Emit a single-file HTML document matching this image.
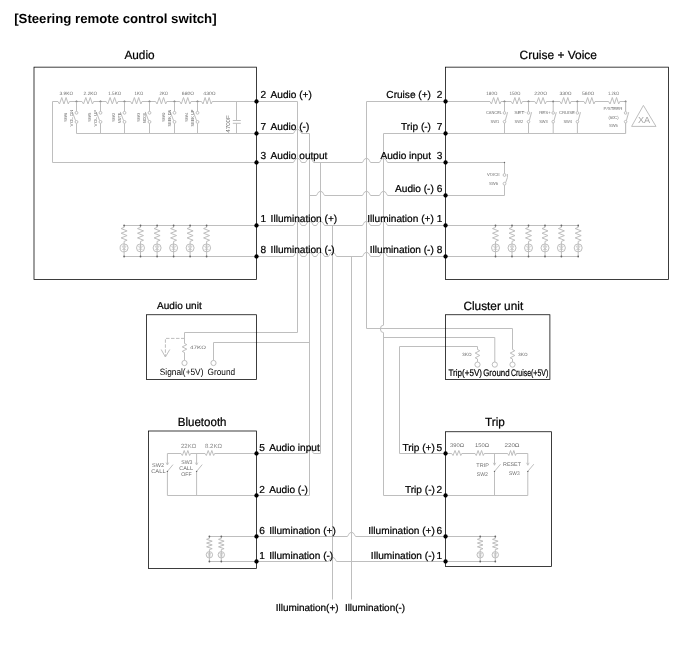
<!DOCTYPE html>
<html lang="en"><head><meta charset="utf-8"><title>Steering remote control switch</title>
<style>
html,body{margin:0;padding:0;background:#fff;}
svg{display:block;text-rendering:geometricPrecision;font-family:"Liberation Sans",sans-serif;will-change:transform;transform:translateZ(0);}
</style></head><body>
<svg width="700" height="659" viewBox="0 0 700 659">
<rect width="700" height="659" fill="#fff"/>
<path d="M256.50 101.50L297.50 101.50L297.50 332.50L184.50 332.50L184.50 343.50" stroke="#bebebe" stroke-width="1" fill="none" />
<path d="M256.5 133.5L293.20 133.5C294.50 133.5 294.40 129.30 297.50 129.30C300.60 129.30 300.50 133.5 301.80 133.5L309.5 133.5" stroke="#bebebe" stroke-width="1" fill="none"/>
<path d="M309.50 133.50L309.50 495.50L256.50 495.50" stroke="#bebebe" stroke-width="1" fill="none" />
<path d="M256.5 162.5L293.20 162.5C294.50 162.5 294.40 158.30 297.50 158.30C300.60 158.30 300.50 162.5 301.80 162.5L305.20 162.5C306.50 162.5 306.40 158.30 309.50 158.30C312.60 158.30 312.50 162.5 313.80 162.5L362.20 162.5C363.50 162.5 363.40 158.30 366.50 158.30C369.60 158.30 369.50 162.5 370.80 162.5L379.20 162.5C380.50 162.5 380.40 158.30 383.50 158.30C386.60 158.30 386.50 162.5 387.80 162.5L445.55 162.5" stroke="#bebebe" stroke-width="1" fill="none"/>
<path d="M320.5 162.5L320.5 453.5" stroke="#bebebe" stroke-width="1" fill="none"/>
<path d="M256.5 453.5L305.20 453.5C306.50 453.5 306.40 449.30 309.50 449.30C312.60 449.30 312.50 453.5 313.80 453.5L320.5 453.5" stroke="#bebebe" stroke-width="1" fill="none"/>
<path d="M309.5 195.5L316.20 195.5C317.50 195.5 317.40 191.30 320.50 191.30C323.60 191.30 323.50 195.5 324.80 195.5L362.20 195.5C363.50 195.5 363.40 191.30 366.50 191.30C369.60 191.30 369.50 195.5 370.80 195.5L379.20 195.5C380.50 195.5 380.40 191.30 383.50 191.30C386.60 191.30 386.50 195.5 387.80 195.5L445.55 195.5" stroke="#bebebe" stroke-width="1" fill="none"/>
<path d="M256.5 225.5L293.20 225.5C294.50 225.5 294.40 221.30 297.50 221.30C300.60 221.30 300.50 225.5 301.80 225.5L305.20 225.5C306.50 225.5 306.40 221.30 309.50 221.30C312.60 221.30 312.50 225.5 313.80 225.5L316.20 225.5C317.50 225.5 317.40 221.30 320.50 221.30C323.60 221.30 323.50 225.5 324.80 225.5L362.20 225.5C363.50 225.5 363.40 221.30 366.50 221.30C369.60 221.30 369.50 225.5 370.80 225.5L379.20 225.5C380.50 225.5 380.40 221.30 383.50 221.30C386.60 221.30 386.50 225.5 387.80 225.5L445.55 225.5" stroke="#bebebe" stroke-width="1" fill="none"/>
<path d="M332.5 225.5L332.5 599.5" stroke="#bebebe" stroke-width="1" fill="none"/>
<path d="M256.5 256.5L293.20 256.5C294.50 256.5 294.40 252.30 297.50 252.30C300.60 252.30 300.50 256.5 301.80 256.5L305.20 256.5C306.50 256.5 306.40 252.30 309.50 252.30C312.60 252.30 312.50 256.5 313.80 256.5L316.20 256.5C317.50 256.5 317.40 252.30 320.50 252.30C323.60 252.30 323.50 256.5 324.80 256.5L328.20 256.5C329.50 256.5 329.40 252.30 332.50 252.30C335.60 252.30 335.50 256.5 336.80 256.5L362.20 256.5C363.50 256.5 363.40 252.30 366.50 252.30C369.60 252.30 369.50 256.5 370.80 256.5L379.20 256.5C380.50 256.5 380.40 252.30 383.50 252.30C386.60 252.30 386.50 256.5 387.80 256.5L445.55 256.5" stroke="#bebebe" stroke-width="1" fill="none"/>
<path d="M351.5 256.5L351.5 599.5" stroke="#bebebe" stroke-width="1" fill="none"/>
<path d="M309.50 342.50L213.50 342.50L213.50 360.40" stroke="#bebebe" stroke-width="1" fill="none" />
<path d="M445.55 101.50L366.50 101.50L366.50 328.50L512.50 328.50L512.50 349.50" stroke="#bebebe" stroke-width="1" fill="none" />
<path d="M445.55 133.5L383.5 133.5L383.5 325.2A3.1 3.7 0 0 0 383.5 332.6L383.5 495.5L445.55 495.5" stroke="#bebebe" stroke-width="1" fill="none"/>
<path d="M383.50 337.50L494.80 337.50L494.80 362.00" stroke="#bebebe" stroke-width="1" fill="none" />
<path d="M445.55 453.50L399.50 453.50L399.50 346.50L477.50 346.50L477.50 349.50" stroke="#bebebe" stroke-width="1" fill="none" />
<path d="M256.5 536.5L347.20 536.5C348.50 536.5 348.40 532.30 351.50 532.30C354.60 532.30 354.50 536.5 355.80 536.5L445.55 536.5" stroke="#bebebe" stroke-width="1" fill="none"/>
<path d="M256.5 561.5L328.20 561.5C329.50 561.5 329.40 557.30 332.50 557.30C335.60 557.30 335.50 561.5 336.80 561.5L445.55 561.5" stroke="#bebebe" stroke-width="1" fill="none"/>
<path d="M52.5 101.5L256.5 101.5" stroke="#bebebe" stroke-width="1" fill="none"/>
<path d="M52.50 101.50L52.50 162.50L256.50 162.50" stroke="#bebebe" stroke-width="1" fill="none" />
<path d="M76.5 133.5L256.5 133.5" stroke="#bebebe" stroke-width="1" fill="none"/>
<rect x="58" y="100.0" width="11.400000000000006" height="3" fill="#fff"/>
<path d="M58.00 101.50L59.48 104.00L61.76 97.50L63.93 104.00L66.09 97.50L68.26 104.00L69.40 101.50" stroke="#bebebe" stroke-width="1" fill="none" />
<rect x="82" y="100.0" width="11.599999999999994" height="3" fill="#fff"/>
<path d="M82.00 101.50L83.51 104.00L85.83 97.50L88.03 104.00L90.24 97.50L92.44 104.00L93.60 101.50" stroke="#bebebe" stroke-width="1" fill="none" />
<rect x="106.2" y="100.0" width="11.799999999999997" height="3" fill="#fff"/>
<path d="M106.20 101.50L107.73 104.00L110.09 97.50L112.34 104.00L114.58 97.50L116.82 104.00L118.00 101.50" stroke="#bebebe" stroke-width="1" fill="none" />
<rect x="130.6" y="100.0" width="11.400000000000006" height="3" fill="#fff"/>
<path d="M130.60 101.50L132.08 104.00L134.36 97.50L136.53 104.00L138.69 97.50L140.86 104.00L142.00 101.50" stroke="#bebebe" stroke-width="1" fill="none" />
<rect x="155.6" y="100.0" width="11.200000000000017" height="3" fill="#fff"/>
<path d="M155.60 101.50L157.06 104.00L159.30 97.50L161.42 104.00L163.55 97.50L165.68 104.00L166.80 101.50" stroke="#bebebe" stroke-width="1" fill="none" />
<rect x="179.8" y="100.0" width="11.199999999999989" height="3" fill="#fff"/>
<path d="M179.80 101.50L181.26 104.00L183.50 97.50L185.62 104.00L187.75 97.50L189.88 104.00L191.00 101.50" stroke="#bebebe" stroke-width="1" fill="none" />
<rect x="201.6" y="100.0" width="10.599999999999994" height="3" fill="#fff"/>
<path d="M201.60 101.50L202.98 104.00L205.10 97.50L207.11 104.00L209.13 97.50L211.14 104.00L212.20 101.50" stroke="#bebebe" stroke-width="1" fill="none" />
<text x="59.5" y="94.8" font-size="4.8" textLength="13.6" lengthAdjust="spacingAndGlyphs" fill="#6e6e6e">3.9KΩ</text>
<text x="83.6" y="94.8" font-size="4.8" textLength="13.6" lengthAdjust="spacingAndGlyphs" fill="#6e6e6e">2.2KΩ</text>
<text x="108.29999999999998" y="94.8" font-size="4.8" textLength="12.8" lengthAdjust="spacingAndGlyphs" fill="#6e6e6e">1.5KΩ</text>
<text x="134.6" y="94.8" font-size="4.8" textLength="8.6" lengthAdjust="spacingAndGlyphs" fill="#6e6e6e">1KΩ</text>
<text x="159.49999999999997" y="94.8" font-size="4.8" textLength="8.6" lengthAdjust="spacingAndGlyphs" fill="#6e6e6e">2KΩ</text>
<text x="181.8" y="94.8" font-size="4.8" textLength="12.4" lengthAdjust="spacingAndGlyphs" fill="#6e6e6e">680Ω</text>
<text x="203.29999999999998" y="94.8" font-size="4.8" textLength="12.4" lengthAdjust="spacingAndGlyphs" fill="#6e6e6e">430Ω</text>
<circle cx="76.5" cy="101.5" r="0.9" fill="#666"/>
<path d="M76.5 101.5L76.5 111.4" stroke="#bebebe" stroke-width="1" fill="none"/>
<path d="M76.5 123.3L76.5 133.5" stroke="#bebebe" stroke-width="1" fill="none"/>
<circle cx="76.5" cy="112.8" r="1.4" stroke="#bebebe" stroke-width="1" fill="none"/>
<circle cx="76.5" cy="121.9" r="1.4" stroke="#bebebe" stroke-width="1" fill="none"/>
<path d="M75.6 120.7L72.3 111.9" stroke="#bebebe" stroke-width="1" fill="none"/>
<text x="66.9" y="121.8" font-size="4.0" textLength="9" lengthAdjust="spacingAndGlyphs" transform="rotate(-90 66.9 121.8)" fill="#6e6e6e">SW6</text>
<text x="72.6" y="126.4" font-size="4.3" textLength="16.8" lengthAdjust="spacingAndGlyphs" transform="rotate(-90 72.6 126.4)" fill="#6e6e6e">VOL DN</text>
<circle cx="100.5" cy="101.5" r="0.9" fill="#666"/>
<path d="M100.5 101.5L100.5 111.4" stroke="#bebebe" stroke-width="1" fill="none"/>
<path d="M100.5 123.3L100.5 133.5" stroke="#bebebe" stroke-width="1" fill="none"/>
<circle cx="100.5" cy="112.8" r="1.4" stroke="#bebebe" stroke-width="1" fill="none"/>
<circle cx="100.5" cy="121.9" r="1.4" stroke="#bebebe" stroke-width="1" fill="none"/>
<path d="M99.6 120.7L96.3 111.9" stroke="#bebebe" stroke-width="1" fill="none"/>
<text x="90.9" y="121.8" font-size="4.0" textLength="9" lengthAdjust="spacingAndGlyphs" transform="rotate(-90 90.9 121.8)" fill="#6e6e6e">SW5</text>
<text x="96.6" y="126.4" font-size="4.3" textLength="16.8" lengthAdjust="spacingAndGlyphs" transform="rotate(-90 96.6 126.4)" fill="#6e6e6e">VOL UP</text>
<circle cx="124.5" cy="101.5" r="0.9" fill="#666"/>
<path d="M124.5 101.5L124.5 111.4" stroke="#bebebe" stroke-width="1" fill="none"/>
<path d="M124.5 123.3L124.5 133.5" stroke="#bebebe" stroke-width="1" fill="none"/>
<circle cx="124.5" cy="112.8" r="1.4" stroke="#bebebe" stroke-width="1" fill="none"/>
<circle cx="124.5" cy="121.9" r="1.4" stroke="#bebebe" stroke-width="1" fill="none"/>
<path d="M123.6 120.7L120.3 111.9" stroke="#bebebe" stroke-width="1" fill="none"/>
<text x="114.9" y="121.8" font-size="4.0" textLength="9" lengthAdjust="spacingAndGlyphs" transform="rotate(-90 114.9 121.8)" fill="#6e6e6e">SW2</text>
<text x="120.6" y="123.25" font-size="4.3" textLength="10.5" lengthAdjust="spacingAndGlyphs" transform="rotate(-90 120.6 123.25)" fill="#6e6e6e">MUTE</text>
<circle cx="149.5" cy="101.5" r="0.9" fill="#666"/>
<path d="M149.5 101.5L149.5 111.4" stroke="#bebebe" stroke-width="1" fill="none"/>
<path d="M149.5 123.3L149.5 133.5" stroke="#bebebe" stroke-width="1" fill="none"/>
<circle cx="149.5" cy="112.8" r="1.4" stroke="#bebebe" stroke-width="1" fill="none"/>
<circle cx="149.5" cy="121.9" r="1.4" stroke="#bebebe" stroke-width="1" fill="none"/>
<path d="M148.6 120.7L145.3 111.9" stroke="#bebebe" stroke-width="1" fill="none"/>
<text x="139.9" y="121.8" font-size="4.0" textLength="9" lengthAdjust="spacingAndGlyphs" transform="rotate(-90 139.9 121.8)" fill="#6e6e6e">SW3</text>
<text x="145.6" y="123.25" font-size="4.3" textLength="10.5" lengthAdjust="spacingAndGlyphs" transform="rotate(-90 145.6 123.25)" fill="#6e6e6e">MODE</text>
<circle cx="174.5" cy="101.5" r="0.9" fill="#666"/>
<path d="M174.5 101.5L174.5 111.4" stroke="#bebebe" stroke-width="1" fill="none"/>
<path d="M174.5 123.3L174.5 133.5" stroke="#bebebe" stroke-width="1" fill="none"/>
<circle cx="174.5" cy="112.8" r="1.4" stroke="#bebebe" stroke-width="1" fill="none"/>
<circle cx="174.5" cy="121.9" r="1.4" stroke="#bebebe" stroke-width="1" fill="none"/>
<path d="M173.6 120.7L170.3 111.9" stroke="#bebebe" stroke-width="1" fill="none"/>
<text x="164.9" y="121.8" font-size="4.0" textLength="9" lengthAdjust="spacingAndGlyphs" transform="rotate(-90 164.9 121.8)" fill="#6e6e6e">SW0</text>
<text x="170.6" y="126.4" font-size="4.3" textLength="16.8" lengthAdjust="spacingAndGlyphs" transform="rotate(-90 170.6 126.4)" fill="#6e6e6e">SEEK DN</text>
<circle cx="197.5" cy="101.5" r="0.9" fill="#666"/>
<path d="M197.5 101.5L197.5 111.4" stroke="#bebebe" stroke-width="1" fill="none"/>
<path d="M197.5 123.3L197.5 133.5" stroke="#bebebe" stroke-width="1" fill="none"/>
<circle cx="197.5" cy="112.8" r="1.4" stroke="#bebebe" stroke-width="1" fill="none"/>
<circle cx="197.5" cy="121.9" r="1.4" stroke="#bebebe" stroke-width="1" fill="none"/>
<path d="M196.6 120.7L193.3 111.9" stroke="#bebebe" stroke-width="1" fill="none"/>
<text x="187.9" y="121.8" font-size="4.0" textLength="9" lengthAdjust="spacingAndGlyphs" transform="rotate(-90 187.9 121.8)" fill="#6e6e6e">SW4</text>
<text x="193.6" y="126.4" font-size="4.3" textLength="16.8" lengthAdjust="spacingAndGlyphs" transform="rotate(-90 193.6 126.4)" fill="#6e6e6e">SEEK UP</text>
<path d="M236.5 101.5L236.5 120.4" stroke="#bebebe" stroke-width="1" fill="none"/>
<path d="M236.5 123.4L236.5 133.5" stroke="#bebebe" stroke-width="1" fill="none"/>
<path d="M232.8 120.5L240.8 120.5" stroke="#bebebe" stroke-width="1" fill="none"/>
<path d="M232.8 123.3L240.8 123.3" stroke="#bebebe" stroke-width="1" fill="none"/>
<text x="229.9" y="132.8" font-size="5.8" textLength="17.7" lengthAdjust="spacingAndGlyphs" transform="rotate(-90 229.9 132.8)" fill="#6e6e6e">4700F</text>
<path d="M124.1 225.5L256.5 225.5" stroke="#bebebe" stroke-width="1" fill="none"/>
<path d="M124.1 256.5L256.5 256.5" stroke="#bebebe" stroke-width="1" fill="none"/>
<path d="M124.1 225.5L124.1 227.4" stroke="#bebebe" stroke-width="1" fill="none"/>
<path d="M124.10 227.40L121.10 228.57L127.10 230.90L121.10 233.23L127.10 235.57L121.10 237.90L127.10 240.23L124.10 241.40" stroke="#bebebe" stroke-width="1" fill="none" />
<path d="M124.1 241.4L124.1 256.5" stroke="#bebebe" stroke-width="1" fill="none"/>
<circle cx="124.1" cy="247.9" r="4.0" stroke="#bebebe" stroke-width="1" fill="none"/>
<path d="M122.10 246.10L126.10 246.10L124.10 249.30L122.10 246.10" stroke="#bebebe" stroke-width="0.6" fill="none" />
<path d="M122.1 249.5L126.1 249.5" stroke="#bebebe" stroke-width="0.6" fill="none"/>
<circle cx="124.1" cy="225.5" r="0.9" fill="#666"/>
<circle cx="124.1" cy="256.5" r="0.9" fill="#666"/>
<path d="M140.5 225.5L140.5 227.4" stroke="#bebebe" stroke-width="1" fill="none"/>
<path d="M140.50 227.40L137.50 228.57L143.50 230.90L137.50 233.23L143.50 235.57L137.50 237.90L143.50 240.23L140.50 241.40" stroke="#bebebe" stroke-width="1" fill="none" />
<path d="M140.5 241.4L140.5 256.5" stroke="#bebebe" stroke-width="1" fill="none"/>
<circle cx="140.5" cy="247.9" r="4.0" stroke="#bebebe" stroke-width="1" fill="none"/>
<path d="M138.50 246.10L142.50 246.10L140.50 249.30L138.50 246.10" stroke="#bebebe" stroke-width="0.6" fill="none" />
<path d="M138.5 249.5L142.5 249.5" stroke="#bebebe" stroke-width="0.6" fill="none"/>
<circle cx="140.5" cy="225.5" r="0.9" fill="#666"/>
<circle cx="140.5" cy="256.5" r="0.9" fill="#666"/>
<path d="M157.1 225.5L157.1 227.4" stroke="#bebebe" stroke-width="1" fill="none"/>
<path d="M157.10 227.40L154.10 228.57L160.10 230.90L154.10 233.23L160.10 235.57L154.10 237.90L160.10 240.23L157.10 241.40" stroke="#bebebe" stroke-width="1" fill="none" />
<path d="M157.1 241.4L157.1 256.5" stroke="#bebebe" stroke-width="1" fill="none"/>
<circle cx="157.1" cy="247.9" r="4.0" stroke="#bebebe" stroke-width="1" fill="none"/>
<path d="M155.10 246.10L159.10 246.10L157.10 249.30L155.10 246.10" stroke="#bebebe" stroke-width="0.6" fill="none" />
<path d="M155.1 249.5L159.1 249.5" stroke="#bebebe" stroke-width="0.6" fill="none"/>
<circle cx="157.1" cy="225.5" r="0.9" fill="#666"/>
<circle cx="157.1" cy="256.5" r="0.9" fill="#666"/>
<path d="M173.6 225.5L173.6 227.4" stroke="#bebebe" stroke-width="1" fill="none"/>
<path d="M173.60 227.40L170.60 228.57L176.60 230.90L170.60 233.23L176.60 235.57L170.60 237.90L176.60 240.23L173.60 241.40" stroke="#bebebe" stroke-width="1" fill="none" />
<path d="M173.6 241.4L173.6 256.5" stroke="#bebebe" stroke-width="1" fill="none"/>
<circle cx="173.6" cy="247.9" r="4.0" stroke="#bebebe" stroke-width="1" fill="none"/>
<path d="M171.60 246.10L175.60 246.10L173.60 249.30L171.60 246.10" stroke="#bebebe" stroke-width="0.6" fill="none" />
<path d="M171.6 249.5L175.6 249.5" stroke="#bebebe" stroke-width="0.6" fill="none"/>
<circle cx="173.6" cy="225.5" r="0.9" fill="#666"/>
<circle cx="173.6" cy="256.5" r="0.9" fill="#666"/>
<path d="M190.1 225.5L190.1 227.4" stroke="#bebebe" stroke-width="1" fill="none"/>
<path d="M190.10 227.40L187.10 228.57L193.10 230.90L187.10 233.23L193.10 235.57L187.10 237.90L193.10 240.23L190.10 241.40" stroke="#bebebe" stroke-width="1" fill="none" />
<path d="M190.1 241.4L190.1 256.5" stroke="#bebebe" stroke-width="1" fill="none"/>
<circle cx="190.1" cy="247.9" r="4.0" stroke="#bebebe" stroke-width="1" fill="none"/>
<path d="M188.10 246.10L192.10 246.10L190.10 249.30L188.10 246.10" stroke="#bebebe" stroke-width="0.6" fill="none" />
<path d="M188.1 249.5L192.1 249.5" stroke="#bebebe" stroke-width="0.6" fill="none"/>
<circle cx="190.1" cy="225.5" r="0.9" fill="#666"/>
<circle cx="190.1" cy="256.5" r="0.9" fill="#666"/>
<path d="M206.6 225.5L206.6 227.4" stroke="#bebebe" stroke-width="1" fill="none"/>
<path d="M206.60 227.40L203.60 228.57L209.60 230.90L203.60 233.23L209.60 235.57L203.60 237.90L209.60 240.23L206.60 241.40" stroke="#bebebe" stroke-width="1" fill="none" />
<path d="M206.6 241.4L206.6 256.5" stroke="#bebebe" stroke-width="1" fill="none"/>
<circle cx="206.6" cy="247.9" r="4.0" stroke="#bebebe" stroke-width="1" fill="none"/>
<path d="M204.60 246.10L208.60 246.10L206.60 249.30L204.60 246.10" stroke="#bebebe" stroke-width="0.6" fill="none" />
<path d="M204.6 249.5L208.6 249.5" stroke="#bebebe" stroke-width="0.6" fill="none"/>
<circle cx="206.6" cy="225.5" r="0.9" fill="#666"/>
<circle cx="206.6" cy="256.5" r="0.9" fill="#666"/>
<path d="M445.55 101.5L625.6 101.5" stroke="#bebebe" stroke-width="1" fill="none"/>
<path d="M445.55 133.50L625.60 133.50L625.60 101.50" stroke="#bebebe" stroke-width="1" fill="none" />
<rect x="490" y="100.0" width="11" height="3" fill="#fff"/>
<path d="M490.00 101.50L491.43 104.00L493.63 97.50L495.72 104.00L497.81 97.50L499.90 104.00L501.00 101.50" stroke="#bebebe" stroke-width="1" fill="none" />
<rect x="511.2" y="100.0" width="11.199999999999989" height="3" fill="#fff"/>
<path d="M511.20 101.50L512.66 104.00L514.90 97.50L517.02 104.00L519.15 97.50L521.28 104.00L522.40 101.50" stroke="#bebebe" stroke-width="1" fill="none" />
<rect x="534.8" y="100.0" width="11.600000000000023" height="3" fill="#fff"/>
<path d="M534.80 101.50L536.31 104.00L538.63 97.50L540.83 104.00L543.04 97.50L545.24 104.00L546.40 101.50" stroke="#bebebe" stroke-width="1" fill="none" />
<rect x="560" y="100.0" width="11" height="3" fill="#fff"/>
<path d="M560.00 101.50L561.43 104.00L563.63 97.50L565.72 104.00L567.81 97.50L569.90 104.00L571.00 101.50" stroke="#bebebe" stroke-width="1" fill="none" />
<rect x="584" y="100.0" width="11" height="3" fill="#fff"/>
<path d="M584.00 101.50L585.43 104.00L587.63 97.50L589.72 104.00L591.81 97.50L593.90 104.00L595.00 101.50" stroke="#bebebe" stroke-width="1" fill="none" />
<rect x="608.6" y="100.0" width="11.199999999999932" height="3" fill="#fff"/>
<path d="M608.60 101.50L610.06 104.00L612.30 97.50L614.42 104.00L616.55 97.50L618.68 104.00L619.80 101.50" stroke="#bebebe" stroke-width="1" fill="none" />
<text x="486.3" y="94.8" font-size="4.8" textLength="11.1" lengthAdjust="spacingAndGlyphs" fill="#6e6e6e">180Ω</text>
<text x="509.4" y="94.8" font-size="4.8" textLength="11.2" lengthAdjust="spacingAndGlyphs" fill="#6e6e6e">150Ω</text>
<text x="534.3" y="94.8" font-size="4.8" textLength="12.8" lengthAdjust="spacingAndGlyphs" fill="#6e6e6e">220Ω</text>
<text x="559.4" y="94.8" font-size="4.8" textLength="12.2" lengthAdjust="spacingAndGlyphs" fill="#6e6e6e">330Ω</text>
<text x="582" y="94.8" font-size="4.8" textLength="12.4" lengthAdjust="spacingAndGlyphs" fill="#6e6e6e">560Ω</text>
<text x="608" y="94.8" font-size="4.8" textLength="11" lengthAdjust="spacingAndGlyphs" fill="#6e6e6e">1.2kΩ</text>
<circle cx="504.5" cy="101.5" r="0.9" fill="#666"/>
<path d="M504.5 101.5L504.5 133.5" stroke="#bebebe" stroke-width="1" fill="none"/>
<rect x="503.5" y="111.5" width="2" height="11.4" fill="#fff"/>
<circle cx="504.5" cy="112.9" r="1.3" stroke="#bebebe" stroke-width="1" fill="none"/>
<circle cx="504.5" cy="121.7" r="1.3" stroke="#bebebe" stroke-width="1" fill="none"/>
<path d="M505.3 120.6L507.6 112.2" stroke="#bebebe" stroke-width="1" fill="none"/>
<text x="485.9" y="114.4" font-size="4.3" textLength="16.1" lengthAdjust="spacingAndGlyphs" fill="#6e6e6e">CANCEL</text>
<text x="490.5" y="123.0" font-size="4.3" textLength="8.6" lengthAdjust="spacingAndGlyphs" fill="#6e6e6e">SW1</text>
<circle cx="528.5" cy="101.5" r="0.9" fill="#666"/>
<path d="M528.5 101.5L528.5 133.5" stroke="#bebebe" stroke-width="1" fill="none"/>
<rect x="527.5" y="111.5" width="2" height="11.4" fill="#fff"/>
<circle cx="528.5" cy="112.9" r="1.3" stroke="#bebebe" stroke-width="1" fill="none"/>
<circle cx="528.5" cy="121.7" r="1.3" stroke="#bebebe" stroke-width="1" fill="none"/>
<path d="M529.3 120.6L531.6 112.2" stroke="#bebebe" stroke-width="1" fill="none"/>
<text x="514.3" y="114.4" font-size="4.3" textLength="11.7" lengthAdjust="spacingAndGlyphs" fill="#6e6e6e">SET-</text>
<text x="514.5" y="123.0" font-size="4.3" textLength="8.6" lengthAdjust="spacingAndGlyphs" fill="#6e6e6e">SW2</text>
<circle cx="553.2" cy="101.5" r="0.9" fill="#666"/>
<path d="M553.2 101.5L553.2 133.5" stroke="#bebebe" stroke-width="1" fill="none"/>
<rect x="552.2" y="111.5" width="2" height="11.4" fill="#fff"/>
<circle cx="553.2" cy="112.9" r="1.3" stroke="#bebebe" stroke-width="1" fill="none"/>
<circle cx="553.2" cy="121.7" r="1.3" stroke="#bebebe" stroke-width="1" fill="none"/>
<path d="M554.0 120.6L556.3000000000001 112.2" stroke="#bebebe" stroke-width="1" fill="none"/>
<text x="539.2" y="114.4" font-size="4.3" textLength="11.5" lengthAdjust="spacingAndGlyphs" fill="#6e6e6e">RES+</text>
<text x="539.2" y="123.0" font-size="4.3" textLength="8.6" lengthAdjust="spacingAndGlyphs" fill="#6e6e6e">SW3</text>
<circle cx="577.4" cy="101.5" r="0.9" fill="#666"/>
<path d="M577.4 101.5L577.4 133.5" stroke="#bebebe" stroke-width="1" fill="none"/>
<rect x="576.4" y="111.5" width="2" height="11.4" fill="#fff"/>
<circle cx="577.4" cy="112.9" r="1.3" stroke="#bebebe" stroke-width="1" fill="none"/>
<circle cx="577.4" cy="121.7" r="1.3" stroke="#bebebe" stroke-width="1" fill="none"/>
<path d="M578.1999999999999 120.6L580.5 112.2" stroke="#bebebe" stroke-width="1" fill="none"/>
<text x="558.9" y="114.4" font-size="4.3" textLength="16.0" lengthAdjust="spacingAndGlyphs" fill="#6e6e6e">CRUISE</text>
<text x="563.4" y="123.0" font-size="4.3" textLength="8.6" lengthAdjust="spacingAndGlyphs" fill="#6e6e6e">SW4</text>
<circle cx="625.6" cy="101.5" r="0.9" fill="#666"/>
<path d="M625.6 101.5L625.6 133.5" stroke="#bebebe" stroke-width="1" fill="none"/>
<rect x="624.6" y="111.5" width="2" height="11.4" fill="#fff"/>
<circle cx="625.6" cy="112.9" r="1.3" stroke="#bebebe" stroke-width="1" fill="none"/>
<circle cx="625.6" cy="121.7" r="1.3" stroke="#bebebe" stroke-width="1" fill="none"/>
<path d="M626.4 120.6L628.7 112.2" stroke="#bebebe" stroke-width="1" fill="none"/>
<text x="603.6" y="110.2" font-size="4.3" textLength="18.8" lengthAdjust="spacingAndGlyphs" fill="#6e6e6e">P/STEER</text>
<text x="608.6" y="118.9" font-size="4.4" textLength="10" lengthAdjust="spacingAndGlyphs" fill="#6e6e6e">(60C)</text>
<text x="609" y="127.4" font-size="4.4" textLength="8.8" lengthAdjust="spacingAndGlyphs" fill="#6e6e6e">SW5</text>
<path d="M643.40 105.40L631.60 126.40L656.00 126.40L643.40 105.40" stroke="#bebebe" stroke-width="1" fill="none" />
<text x="638" y="122.7" font-size="8.8" textLength="12.2" lengthAdjust="spacingAndGlyphs" fill="#a4a4a4">XA</text>
<path d="M445.55 162.50L504.50 162.50L504.50 195.50L445.55 195.50" stroke="#bebebe" stroke-width="1" fill="none" />
<rect x="503.5" y="173.6" width="2" height="11.5" fill="#fff"/>
<circle cx="504.5" cy="175.0" r="1.4" stroke="#bebebe" stroke-width="1" fill="none"/>
<circle cx="504.5" cy="183.7" r="1.4" stroke="#bebebe" stroke-width="1" fill="none"/>
<path d="M505.60 182.80L507.40 177.50L507.40 174.00" stroke="#bebebe" stroke-width="1" fill="none" />
<circle cx="504.5" cy="162.5" r="0.7" fill="#666"/>
<text x="487" y="176" font-size="4.4" textLength="12.9" lengthAdjust="spacingAndGlyphs" fill="#6e6e6e">VOICE</text>
<text x="489" y="184.8" font-size="4.4" textLength="9" lengthAdjust="spacingAndGlyphs" fill="#6e6e6e">SW6</text>
<path d="M445.55 225.5L578.2 225.5" stroke="#bebebe" stroke-width="1" fill="none"/>
<path d="M445.55 256.5L578.2 256.5" stroke="#bebebe" stroke-width="1" fill="none"/>
<path d="M495.5 225.5L495.5 227.4" stroke="#bebebe" stroke-width="1" fill="none"/>
<path d="M495.50 227.40L492.50 228.57L498.50 230.90L492.50 233.23L498.50 235.57L492.50 237.90L498.50 240.23L495.50 241.40" stroke="#bebebe" stroke-width="1" fill="none" />
<path d="M495.5 241.4L495.5 256.5" stroke="#bebebe" stroke-width="1" fill="none"/>
<circle cx="495.5" cy="247.9" r="4.0" stroke="#bebebe" stroke-width="1" fill="none"/>
<path d="M493.50 246.10L497.50 246.10L495.50 249.30L493.50 246.10" stroke="#bebebe" stroke-width="0.6" fill="none" />
<path d="M493.5 249.5L497.5 249.5" stroke="#bebebe" stroke-width="0.6" fill="none"/>
<circle cx="495.5" cy="225.5" r="0.9" fill="#666"/>
<circle cx="495.5" cy="256.5" r="0.9" fill="#666"/>
<path d="M512 225.5L512 227.4" stroke="#bebebe" stroke-width="1" fill="none"/>
<path d="M512.00 227.40L509.00 228.57L515.00 230.90L509.00 233.23L515.00 235.57L509.00 237.90L515.00 240.23L512.00 241.40" stroke="#bebebe" stroke-width="1" fill="none" />
<path d="M512 241.4L512 256.5" stroke="#bebebe" stroke-width="1" fill="none"/>
<circle cx="512" cy="247.9" r="4.0" stroke="#bebebe" stroke-width="1" fill="none"/>
<path d="M510.00 246.10L514.00 246.10L512.00 249.30L510.00 246.10" stroke="#bebebe" stroke-width="0.6" fill="none" />
<path d="M510.0 249.5L514.0 249.5" stroke="#bebebe" stroke-width="0.6" fill="none"/>
<circle cx="512" cy="225.5" r="0.9" fill="#666"/>
<circle cx="512" cy="256.5" r="0.9" fill="#666"/>
<path d="M528.5 225.5L528.5 227.4" stroke="#bebebe" stroke-width="1" fill="none"/>
<path d="M528.50 227.40L525.50 228.57L531.50 230.90L525.50 233.23L531.50 235.57L525.50 237.90L531.50 240.23L528.50 241.40" stroke="#bebebe" stroke-width="1" fill="none" />
<path d="M528.5 241.4L528.5 256.5" stroke="#bebebe" stroke-width="1" fill="none"/>
<circle cx="528.5" cy="247.9" r="4.0" stroke="#bebebe" stroke-width="1" fill="none"/>
<path d="M526.50 246.10L530.50 246.10L528.50 249.30L526.50 246.10" stroke="#bebebe" stroke-width="0.6" fill="none" />
<path d="M526.5 249.5L530.5 249.5" stroke="#bebebe" stroke-width="0.6" fill="none"/>
<circle cx="528.5" cy="225.5" r="0.9" fill="#666"/>
<circle cx="528.5" cy="256.5" r="0.9" fill="#666"/>
<path d="M545 225.5L545 227.4" stroke="#bebebe" stroke-width="1" fill="none"/>
<path d="M545.00 227.40L542.00 228.57L548.00 230.90L542.00 233.23L548.00 235.57L542.00 237.90L548.00 240.23L545.00 241.40" stroke="#bebebe" stroke-width="1" fill="none" />
<path d="M545 241.4L545 256.5" stroke="#bebebe" stroke-width="1" fill="none"/>
<circle cx="545" cy="247.9" r="4.0" stroke="#bebebe" stroke-width="1" fill="none"/>
<path d="M543.00 246.10L547.00 246.10L545.00 249.30L543.00 246.10" stroke="#bebebe" stroke-width="0.6" fill="none" />
<path d="M543.0 249.5L547.0 249.5" stroke="#bebebe" stroke-width="0.6" fill="none"/>
<circle cx="545" cy="225.5" r="0.9" fill="#666"/>
<circle cx="545" cy="256.5" r="0.9" fill="#666"/>
<path d="M561.4 225.5L561.4 227.4" stroke="#bebebe" stroke-width="1" fill="none"/>
<path d="M561.40 227.40L558.40 228.57L564.40 230.90L558.40 233.23L564.40 235.57L558.40 237.90L564.40 240.23L561.40 241.40" stroke="#bebebe" stroke-width="1" fill="none" />
<path d="M561.4 241.4L561.4 256.5" stroke="#bebebe" stroke-width="1" fill="none"/>
<circle cx="561.4" cy="247.9" r="4.0" stroke="#bebebe" stroke-width="1" fill="none"/>
<path d="M559.40 246.10L563.40 246.10L561.40 249.30L559.40 246.10" stroke="#bebebe" stroke-width="0.6" fill="none" />
<path d="M559.4 249.5L563.4 249.5" stroke="#bebebe" stroke-width="0.6" fill="none"/>
<circle cx="561.4" cy="225.5" r="0.9" fill="#666"/>
<circle cx="561.4" cy="256.5" r="0.9" fill="#666"/>
<path d="M578.2 225.5L578.2 227.4" stroke="#bebebe" stroke-width="1" fill="none"/>
<path d="M578.20 227.40L575.20 228.57L581.20 230.90L575.20 233.23L581.20 235.57L575.20 237.90L581.20 240.23L578.20 241.40" stroke="#bebebe" stroke-width="1" fill="none" />
<path d="M578.2 241.4L578.2 256.5" stroke="#bebebe" stroke-width="1" fill="none"/>
<circle cx="578.2" cy="247.9" r="4.0" stroke="#bebebe" stroke-width="1" fill="none"/>
<path d="M576.20 246.10L580.20 246.10L578.20 249.30L576.20 246.10" stroke="#bebebe" stroke-width="0.6" fill="none" />
<path d="M576.2 249.5L580.2 249.5" stroke="#bebebe" stroke-width="0.6" fill="none"/>
<circle cx="578.2" cy="225.5" r="0.9" fill="#666"/>
<circle cx="578.2" cy="256.5" r="0.9" fill="#666"/>
<path d="M184.50 343.50L186.80 344.62L182.20 346.88L186.80 349.12L182.20 351.38L184.50 352.50" stroke="#bebebe" stroke-width="1" fill="none" />
<path d="M184.5 352.5L184.5 360.4" stroke="#bebebe" stroke-width="1" fill="none"/>
<circle cx="184.5" cy="363" r="2.6" stroke="#bebebe" stroke-width="1" fill="none"/>
<circle cx="213.5" cy="363" r="2.6" stroke="#bebebe" stroke-width="1" fill="none"/>
<path d="M184.50 338.40L165.40 338.40L165.40 357.00" stroke="#bebebe" stroke-width="1" fill="none" stroke-dasharray="3.5 1.5"/>
<path d="M161.20 349.50L165.40 357.00L169.80 349.50" stroke="#bebebe" stroke-width="1" fill="none" />
<text x="190" y="349.4" font-size="4.8" textLength="16" lengthAdjust="spacingAndGlyphs" fill="#6e6e6e">47KΩ</text>
<text x="159.8" y="375.4" font-size="9.2" textLength="43.6" lengthAdjust="spacingAndGlyphs" fill="#000">Signal(+5V)</text>
<text x="207.5" y="375.4" font-size="9.2" textLength="27.6" lengthAdjust="spacingAndGlyphs" fill="#000">Ground</text>
<path d="M512.50 349.50L514.80 350.69L510.20 353.06L514.80 355.44L510.20 357.81L512.50 359.00" stroke="#bebebe" stroke-width="1" fill="none" />
<path d="M512.5 359L512.5 362" stroke="#bebebe" stroke-width="1" fill="none"/>
<path d="M477.50 349.50L479.80 350.69L475.20 353.06L479.80 355.44L475.20 357.81L477.50 359.00" stroke="#bebebe" stroke-width="1" fill="none" />
<path d="M477.5 359L477.5 362" stroke="#bebebe" stroke-width="1" fill="none"/>
<circle cx="477.5" cy="364.6" r="2.6" stroke="#bebebe" stroke-width="1" fill="none"/>
<circle cx="494.8" cy="364.6" r="2.6" stroke="#bebebe" stroke-width="1" fill="none"/>
<circle cx="512.5" cy="364.6" r="2.6" stroke="#bebebe" stroke-width="1" fill="none"/>
<text x="462" y="356.2" font-size="4.6" textLength="9.6" lengthAdjust="spacingAndGlyphs" fill="#6e6e6e">3KΩ</text>
<text x="518" y="356.2" font-size="4.6" textLength="9.6" lengthAdjust="spacingAndGlyphs" fill="#6e6e6e">3KΩ</text>
<text x="448.4" y="376.4" font-size="9.6" textLength="33.6" lengthAdjust="spacingAndGlyphs" fill="#000" stroke="#000" stroke-width="0.22">Trip(+5V)</text>
<text x="483.2" y="376.4" font-size="9.6" textLength="26.4" lengthAdjust="spacingAndGlyphs" fill="#000" stroke="#000" stroke-width="0.22">Ground</text>
<text x="511" y="376.4" font-size="9.6" textLength="37.2" lengthAdjust="spacingAndGlyphs" fill="#000" stroke="#000" stroke-width="0.22">Cruise(+5V)</text>
<path d="M167.4 453.5L256.5 453.5" stroke="#bebebe" stroke-width="1" fill="none"/>
<path d="M167.4 495.5L256.5 495.5" stroke="#bebebe" stroke-width="1" fill="none"/>
<path d="M167.4 453.5L167.4 464.6" stroke="#bebebe" stroke-width="1" fill="none"/>
<path d="M167.4 471.4L167.4 495.5" stroke="#bebebe" stroke-width="1" fill="none"/>
<path d="M166.10 462.60L167.40 465.00L168.70 462.60" stroke="#bebebe" stroke-width="0.8" fill="none" />
<path d="M167.4 471.4L173.0 464.6" stroke="#bebebe" stroke-width="1" fill="none"/>
<circle cx="167.4" cy="471.4" r="0.7" fill="#666"/>
<path d="M196.6 453.5L196.6 464.6" stroke="#bebebe" stroke-width="1" fill="none"/>
<path d="M196.6 471.4L196.6 495.5" stroke="#bebebe" stroke-width="1" fill="none"/>
<path d="M195.30 462.60L196.60 465.00L197.90 462.60" stroke="#bebebe" stroke-width="0.8" fill="none" />
<path d="M196.6 471.4L202.2 464.6" stroke="#bebebe" stroke-width="1" fill="none"/>
<circle cx="196.6" cy="471.4" r="0.7" fill="#666"/>
<rect x="181.1" y="452.0" width="9.5" height="3" fill="#fff"/>
<path d="M181.10 453.50L182.34 455.50L184.23 450.50L186.04 455.50L187.84 450.50L189.65 455.50L190.60 453.50" stroke="#bebebe" stroke-width="1" fill="none" />
<rect x="205.1" y="452.0" width="9.5" height="3" fill="#fff"/>
<path d="M205.10 453.50L206.34 455.50L208.23 450.50L210.04 455.50L211.84 450.50L213.65 455.50L214.60 453.50" stroke="#bebebe" stroke-width="1" fill="none" />
<text x="181" y="447.8" font-size="6" textLength="15.1" lengthAdjust="spacingAndGlyphs" fill="#8c8c8c">22KΩ</text>
<text x="205" y="447.8" font-size="6" textLength="17" lengthAdjust="spacingAndGlyphs" fill="#8c8c8c">8.2KΩ</text>
<text x="152" y="467.3" font-size="5.4" textLength="12" lengthAdjust="spacingAndGlyphs" fill="#6e6e6e">SW2</text>
<text x="151.2" y="473" font-size="5.4" textLength="14.5" lengthAdjust="spacingAndGlyphs" fill="#6e6e6e">CALL</text>
<text x="181.2" y="464.4" font-size="5.4" textLength="11.2" lengthAdjust="spacingAndGlyphs" fill="#6e6e6e">SW3</text>
<text x="179.2" y="470.4" font-size="5.4" textLength="13.8" lengthAdjust="spacingAndGlyphs" fill="#6e6e6e">CALL</text>
<text x="181.2" y="476.4" font-size="5.4" textLength="10.4" lengthAdjust="spacingAndGlyphs" fill="#6e6e6e">OFF</text>
<path d="M209.4 536.5L256.5 536.5" stroke="#bebebe" stroke-width="1" fill="none"/>
<path d="M209.4 561.5L256.5 561.5" stroke="#bebebe" stroke-width="1" fill="none"/>
<path d="M209.4 536.5L209.4 538.4" stroke="#bebebe" stroke-width="1" fill="none"/>
<path d="M209.40 538.40L206.60 539.33L212.20 541.20L206.60 543.07L212.20 544.93L206.60 546.80L212.20 548.67L209.40 549.60" stroke="#bebebe" stroke-width="1" fill="none" />
<path d="M209.4 549.6L209.4 561.5" stroke="#bebebe" stroke-width="1" fill="none"/>
<circle cx="209.4" cy="554.8" r="3.2" stroke="#bebebe" stroke-width="1" fill="none"/>
<path d="M207.80 553.36L211.00 553.36L209.40 555.92L207.80 553.36" stroke="#bebebe" stroke-width="0.6" fill="none" />
<path d="M207.8 556.0799999999999L211.0 556.0799999999999" stroke="#bebebe" stroke-width="0.6" fill="none"/>
<circle cx="209.4" cy="536.5" r="0.9" fill="#666"/>
<circle cx="209.4" cy="561.5" r="0.9" fill="#666"/>
<path d="M221.3 536.5L221.3 538.4" stroke="#bebebe" stroke-width="1" fill="none"/>
<path d="M221.30 538.40L218.50 539.33L224.10 541.20L218.50 543.07L224.10 544.93L218.50 546.80L224.10 548.67L221.30 549.60" stroke="#bebebe" stroke-width="1" fill="none" />
<path d="M221.3 549.6L221.3 561.5" stroke="#bebebe" stroke-width="1" fill="none"/>
<circle cx="221.3" cy="554.8" r="3.2" stroke="#bebebe" stroke-width="1" fill="none"/>
<path d="M219.70 553.36L222.90 553.36L221.30 555.92L219.70 553.36" stroke="#bebebe" stroke-width="0.6" fill="none" />
<path d="M219.70000000000002 556.0799999999999L222.9 556.0799999999999" stroke="#bebebe" stroke-width="0.6" fill="none"/>
<circle cx="221.3" cy="536.5" r="0.9" fill="#666"/>
<circle cx="221.3" cy="561.5" r="0.9" fill="#666"/>
<path d="M445.55 453.5L527.8 453.5" stroke="#bebebe" stroke-width="1" fill="none"/>
<path d="M527.80 453.50L527.80 453.50" stroke="#bebebe" stroke-width="1" fill="none" />
<path d="M445.55 495.5L527.8 495.5" stroke="#bebebe" stroke-width="1" fill="none"/>
<path d="M494.5 453.5L494.5 465.2" stroke="#bebebe" stroke-width="1" fill="none"/>
<path d="M494.5 471.4L494.5 495.5" stroke="#bebebe" stroke-width="1" fill="none"/>
<path d="M493.20 462.80L494.50 465.20L495.80 462.80" stroke="#bebebe" stroke-width="0.8" fill="none" />
<path d="M494.5 471.4L500.5 464.2" stroke="#bebebe" stroke-width="1" fill="none"/>
<circle cx="494.5" cy="471.4" r="0.7" fill="#666"/>
<path d="M527.8 453.5L527.8 465.2" stroke="#bebebe" stroke-width="1" fill="none"/>
<path d="M527.8 471.4L527.8 495.5" stroke="#bebebe" stroke-width="1" fill="none"/>
<path d="M526.50 462.80L527.80 465.20L529.10 462.80" stroke="#bebebe" stroke-width="0.8" fill="none" />
<path d="M527.8 471.4L533.8 464.2" stroke="#bebebe" stroke-width="1" fill="none"/>
<circle cx="527.8" cy="471.4" r="0.7" fill="#666"/>
<rect x="451.7" y="452.0" width="10.100000000000023" height="3" fill="#fff"/>
<path d="M451.70 453.50L453.01 455.50L455.03 450.50L456.95 455.50L458.87 450.50L460.79 455.50L461.80 453.50" stroke="#bebebe" stroke-width="1" fill="none" />
<rect x="475.1" y="452.0" width="9.099999999999966" height="3" fill="#fff"/>
<path d="M475.10 453.50L476.28 455.50L478.10 450.50L479.83 455.50L481.56 450.50L483.29 455.50L484.20 453.50" stroke="#bebebe" stroke-width="1" fill="none" />
<rect x="507.7" y="452.0" width="8.599999999999966" height="3" fill="#fff"/>
<path d="M507.70 453.50L508.82 455.50L510.54 450.50L512.17 455.50L513.81 450.50L515.44 455.50L516.30 453.50" stroke="#bebebe" stroke-width="1" fill="none" />
<text x="457" y="447.4" font-size="5.4" text-anchor="middle" textLength="14" lengthAdjust="spacingAndGlyphs" fill="#6e6e6e">390Ω</text>
<text x="482" y="447.4" font-size="5.4" text-anchor="middle" textLength="14" lengthAdjust="spacingAndGlyphs" fill="#6e6e6e">150Ω</text>
<text x="512" y="447" font-size="5.4" text-anchor="middle" textLength="15" lengthAdjust="spacingAndGlyphs" fill="#6e6e6e">220Ω</text>
<text x="476.3" y="466.6" font-size="5.3" textLength="12.5" lengthAdjust="spacingAndGlyphs" fill="#6e6e6e">TRIP</text>
<text x="476.8" y="475.7" font-size="5.3" textLength="11.1" lengthAdjust="spacingAndGlyphs" fill="#6e6e6e">SW2</text>
<text x="512" y="466" font-size="5.3" text-anchor="middle" textLength="18" lengthAdjust="spacingAndGlyphs" fill="#6e6e6e">RESET</text>
<text x="509.1" y="475" font-size="5.3" textLength="10.6" lengthAdjust="spacingAndGlyphs" fill="#6e6e6e">SW3</text>
<path d="M445.55 536.5L495.3 536.5" stroke="#bebebe" stroke-width="1" fill="none"/>
<path d="M445.55 561.5L495.3 561.5" stroke="#bebebe" stroke-width="1" fill="none"/>
<path d="M480.2 536.5L480.2 538.4" stroke="#bebebe" stroke-width="1" fill="none"/>
<path d="M480.20 538.40L477.40 539.33L483.00 541.20L477.40 543.07L483.00 544.93L477.40 546.80L483.00 548.67L480.20 549.60" stroke="#bebebe" stroke-width="1" fill="none" />
<path d="M480.2 549.6L480.2 561.5" stroke="#bebebe" stroke-width="1" fill="none"/>
<circle cx="480.2" cy="554.8" r="3.2" stroke="#bebebe" stroke-width="1" fill="none"/>
<path d="M478.60 553.36L481.80 553.36L480.20 555.92L478.60 553.36" stroke="#bebebe" stroke-width="0.6" fill="none" />
<path d="M478.59999999999997 556.0799999999999L481.8 556.0799999999999" stroke="#bebebe" stroke-width="0.6" fill="none"/>
<circle cx="480.2" cy="536.5" r="0.9" fill="#666"/>
<circle cx="480.2" cy="561.5" r="0.9" fill="#666"/>
<path d="M495.3 536.5L495.3 538.4" stroke="#bebebe" stroke-width="1" fill="none"/>
<path d="M495.30 538.40L492.50 539.33L498.10 541.20L492.50 543.07L498.10 544.93L492.50 546.80L498.10 548.67L495.30 549.60" stroke="#bebebe" stroke-width="1" fill="none" />
<path d="M495.3 549.6L495.3 561.5" stroke="#bebebe" stroke-width="1" fill="none"/>
<circle cx="495.3" cy="554.8" r="3.2" stroke="#bebebe" stroke-width="1" fill="none"/>
<path d="M493.70 553.36L496.90 553.36L495.30 555.92L493.70 553.36" stroke="#bebebe" stroke-width="0.6" fill="none" />
<path d="M493.7 556.0799999999999L496.90000000000003 556.0799999999999" stroke="#bebebe" stroke-width="0.6" fill="none"/>
<circle cx="495.3" cy="536.5" r="0.9" fill="#666"/>
<circle cx="495.3" cy="561.5" r="0.9" fill="#666"/>
<rect x="34.0" y="67.15" width="222.5" height="212.24999999999997" fill="none" stroke="#000" stroke-width="0.76"/>
<rect x="445.55" y="67.15" width="222.95" height="212.24999999999997" fill="none" stroke="#000" stroke-width="0.76"/>
<rect x="146.5" y="314.75" width="110.0" height="64.64999999999998" fill="none" stroke="#000" stroke-width="0.76"/>
<rect x="445.55" y="314.75" width="104.34999999999997" height="64.64999999999998" fill="none" stroke="#000" stroke-width="0.76"/>
<rect x="148.5" y="431.0" width="108.0" height="137.60000000000002" fill="none" stroke="#000" stroke-width="0.76"/>
<rect x="445.55" y="431.75" width="105.94999999999999" height="134.64999999999998" fill="none" stroke="#000" stroke-width="0.76"/>
<circle cx="256.5" cy="101.5" r="2.15" fill="#000"/>
<circle cx="256.5" cy="133.5" r="2.15" fill="#000"/>
<circle cx="256.5" cy="162.5" r="2.15" fill="#000"/>
<circle cx="256.5" cy="225.5" r="2.15" fill="#000"/>
<circle cx="256.5" cy="256.5" r="2.15" fill="#000"/>
<circle cx="445.55" cy="101.5" r="2.15" fill="#000"/>
<circle cx="445.55" cy="133.5" r="2.15" fill="#000"/>
<circle cx="445.55" cy="162.5" r="2.15" fill="#000"/>
<circle cx="445.55" cy="195.5" r="2.15" fill="#000"/>
<circle cx="445.55" cy="225.5" r="2.15" fill="#000"/>
<circle cx="445.55" cy="256.5" r="2.15" fill="#000"/>
<circle cx="256.5" cy="453.5" r="2.15" fill="#000"/>
<circle cx="445.55" cy="453.5" r="2.15" fill="#000"/>
<circle cx="256.5" cy="495.5" r="2.15" fill="#000"/>
<circle cx="445.55" cy="495.5" r="2.15" fill="#000"/>
<circle cx="256.5" cy="536.5" r="2.15" fill="#000"/>
<circle cx="445.55" cy="536.5" r="2.15" fill="#000"/>
<circle cx="256.5" cy="561.5" r="2.15" fill="#000"/>
<circle cx="445.55" cy="561.5" r="2.15" fill="#000"/>
<text x="14.2" y="23" font-size="13.2" textLength="202.4" lengthAdjust="spacingAndGlyphs" font-weight="bold" fill="#000">[Steering remote control switch]</text>
<text x="124.4" y="59" font-size="12" textLength="30.2" lengthAdjust="spacingAndGlyphs" fill="#000" stroke="#000" stroke-width="0.22">Audio</text>
<text x="519.5" y="58.9" font-size="12" textLength="77.5" lengthAdjust="spacingAndGlyphs" fill="#000" stroke="#000" stroke-width="0.22">Cruise + Voice</text>
<text x="157.1" y="308.9" font-size="10" textLength="44.6" lengthAdjust="spacingAndGlyphs" fill="#000" stroke="#000" stroke-width="0.22">Audio unit</text>
<text x="463.4" y="309.6" font-size="12" textLength="59.8" lengthAdjust="spacingAndGlyphs" fill="#000" stroke="#000" stroke-width="0.22">Cluster unit</text>
<text x="177.8" y="425.8" font-size="12" textLength="48.7" lengthAdjust="spacingAndGlyphs" fill="#000" stroke="#000" stroke-width="0.22">Bluetooth</text>
<text x="485.1" y="425.7" font-size="12" textLength="19.8" lengthAdjust="spacingAndGlyphs" fill="#000" stroke="#000" stroke-width="0.22">Trip</text>
<text x="260.4" y="98.1" font-size="10.12" fill="#000" stroke="#000" stroke-width="0.22">2</text>
<text x="270.6" y="98.1" font-size="10.12" fill="#000" stroke="#000" stroke-width="0.22">Audio (+)</text>
<text x="260.4" y="130.1" font-size="10.12" fill="#000" stroke="#000" stroke-width="0.22">7</text>
<text x="270.6" y="130.1" font-size="10.12" fill="#000" stroke="#000" stroke-width="0.22">Audio (-)</text>
<text x="260.4" y="159.1" font-size="10.12" fill="#000" stroke="#000" stroke-width="0.22">3</text>
<text x="270.6" y="159.1" font-size="10.12" fill="#000" stroke="#000" stroke-width="0.22">Audio output</text>
<text x="260.4" y="222.1" font-size="10.12" fill="#000" stroke="#000" stroke-width="0.22">1</text>
<text x="270.6" y="222.1" font-size="10.12" fill="#000" stroke="#000" stroke-width="0.22">Illumination (+)</text>
<text x="260.4" y="253.1" font-size="10.12" fill="#000" stroke="#000" stroke-width="0.22">8</text>
<text x="270.6" y="253.1" font-size="10.12" fill="#000" stroke="#000" stroke-width="0.22">Illumination (-)</text>
<text x="442.4" y="98.1" font-size="10.12" text-anchor="end" fill="#000" stroke="#000" stroke-width="0.22">2</text>
<text x="431.0" y="98.1" font-size="10.12" text-anchor="end" fill="#000" stroke="#000" stroke-width="0.22">Cruise (+)</text>
<text x="442.4" y="130.1" font-size="10.12" text-anchor="end" fill="#000" stroke="#000" stroke-width="0.22">7</text>
<text x="431.0" y="130.1" font-size="10.12" text-anchor="end" fill="#000" stroke="#000" stroke-width="0.22">Trip (-)</text>
<text x="442.4" y="159.1" font-size="10.12" text-anchor="end" fill="#000" stroke="#000" stroke-width="0.22">3</text>
<text x="431.0" y="159.1" font-size="10.12" text-anchor="end" fill="#000" stroke="#000" stroke-width="0.22">Audio input</text>
<text x="442.4" y="192.1" font-size="10.12" text-anchor="end" fill="#000" stroke="#000" stroke-width="0.22">6</text>
<text x="433.8" y="192.1" font-size="10.12" text-anchor="end" fill="#000" stroke="#000" stroke-width="0.22">Audio (-)</text>
<text x="442.4" y="222.1" font-size="10.12" text-anchor="end" fill="#000" stroke="#000" stroke-width="0.22">1</text>
<text x="433.8" y="222.1" font-size="10.12" text-anchor="end" fill="#000" stroke="#000" stroke-width="0.22">Illumination (+)</text>
<text x="442.4" y="253.1" font-size="10.12" text-anchor="end" fill="#000" stroke="#000" stroke-width="0.22">8</text>
<text x="433.8" y="253.1" font-size="10.12" text-anchor="end" fill="#000" stroke="#000" stroke-width="0.22">Illumination (-)</text>
<text x="259.3" y="450.8" font-size="10.12" fill="#000" stroke="#000" stroke-width="0.22">5</text>
<text x="269.2" y="450.8" font-size="10.12" fill="#000" stroke="#000" stroke-width="0.22">Audio input</text>
<text x="259.3" y="492.8" font-size="10.12" fill="#000" stroke="#000" stroke-width="0.22">2</text>
<text x="269.2" y="492.8" font-size="10.12" fill="#000" stroke="#000" stroke-width="0.22">Audio (-)</text>
<text x="259.3" y="533.8" font-size="10.12" fill="#000" stroke="#000" stroke-width="0.22">6</text>
<text x="269.2" y="533.8" font-size="10.12" fill="#000" stroke="#000" stroke-width="0.22">Illumination (+)</text>
<text x="259.3" y="558.8" font-size="10.12" fill="#000" stroke="#000" stroke-width="0.22">1</text>
<text x="269.2" y="558.8" font-size="10.12" fill="#000" stroke="#000" stroke-width="0.22">Illumination (-)</text>
<text x="442.0" y="450.8" font-size="10.12" text-anchor="end" fill="#000" stroke="#000" stroke-width="0.22">5</text>
<text x="434.9" y="450.8" font-size="10.12" text-anchor="end" fill="#000" stroke="#000" stroke-width="0.22">Trip (+)</text>
<text x="442.0" y="492.8" font-size="10.12" text-anchor="end" fill="#000" stroke="#000" stroke-width="0.22">2</text>
<text x="434.9" y="492.8" font-size="10.12" text-anchor="end" fill="#000" stroke="#000" stroke-width="0.22">Trip (-)</text>
<text x="442.0" y="533.8" font-size="10.12" text-anchor="end" fill="#000" stroke="#000" stroke-width="0.22">6</text>
<text x="434.9" y="533.8" font-size="10.12" text-anchor="end" fill="#000" stroke="#000" stroke-width="0.22">Illumination (+)</text>
<text x="442.0" y="558.8" font-size="10.12" text-anchor="end" fill="#000" stroke="#000" stroke-width="0.22">1</text>
<text x="434.9" y="558.8" font-size="10.12" text-anchor="end" fill="#000" stroke="#000" stroke-width="0.22">Illumination (-)</text>
<text x="275.7" y="610.9" font-size="10" textLength="62.9" lengthAdjust="spacingAndGlyphs" fill="#000" stroke="#000" stroke-width="0.22">Illumination(+)</text>
<text x="344.9" y="610.9" font-size="10" textLength="60.2" lengthAdjust="spacingAndGlyphs" fill="#000" stroke="#000" stroke-width="0.22">Illumination(-)</text>
</svg>
</body></html>
